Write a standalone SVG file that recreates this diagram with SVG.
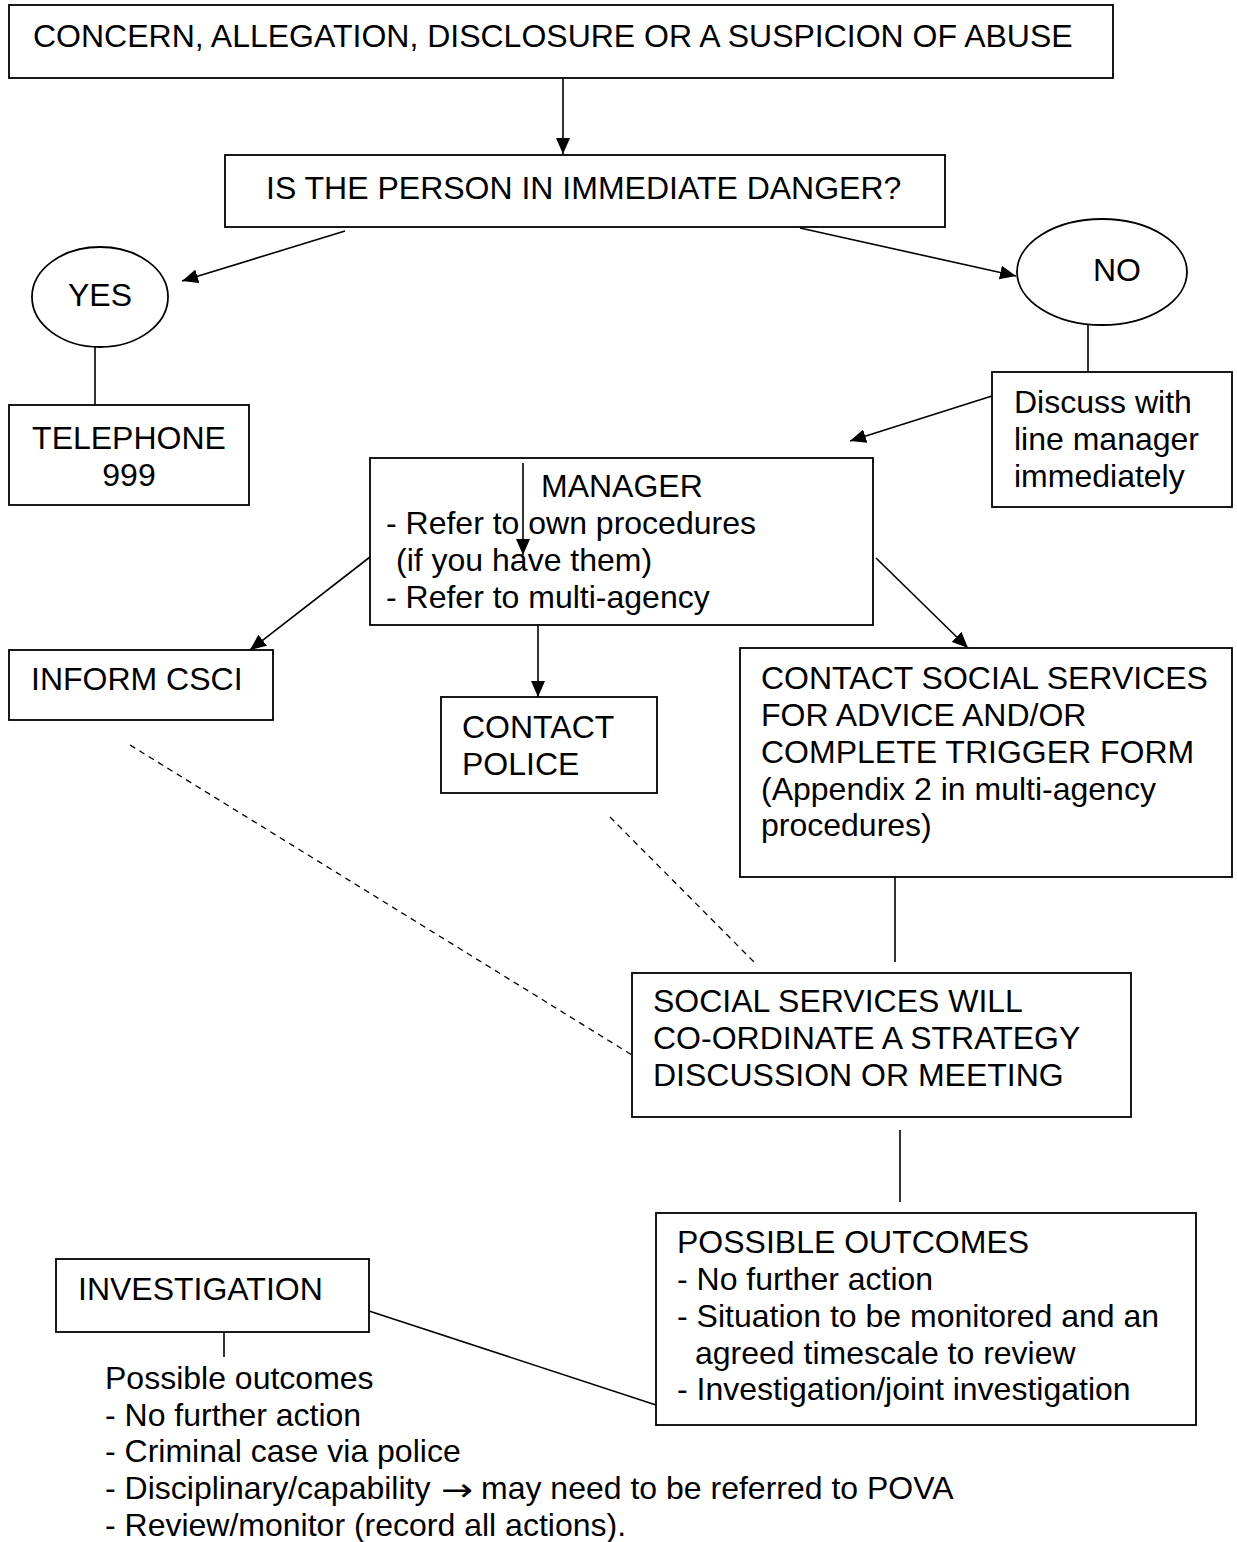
<svg xmlns="http://www.w3.org/2000/svg" width="1237" height="1542" viewBox="0 0 1237 1542">
<style>
.b{fill:#fff;stroke:#000;stroke-width:1.8}
.t{font-family:"Liberation Sans",Arial,sans-serif;font-size:32px;fill:#000}
.c{stroke:#000;stroke-width:1.6;fill:none}
.d{stroke:#000;stroke-width:1.3;fill:none;stroke-dasharray:6 5}
</style>
<defs>
<marker id="ah" markerUnits="userSpaceOnUse" markerWidth="18" markerHeight="14" refX="16" refY="7" orient="auto">
<path d="M0,0 L16,7 L0,14 z" fill="#000"/>
</marker>
</defs>
<rect width="1237" height="1542" fill="#fff"/>
<g id="connectors">
<line class="c" x1="563" y1="78" x2="563" y2="154" marker-end="url(#ah)"/>
<line class="c" x1="345" y1="231" x2="182" y2="281" marker-end="url(#ah)"/>
<line class="c" x1="800" y1="228" x2="1016" y2="276" marker-end="url(#ah)"/>
<line class="c" x1="95" y1="347" x2="95" y2="405"/>
<line class="c" x1="1088" y1="325" x2="1088" y2="372"/>
<line class="c" x1="992" y1="396" x2="850" y2="441" marker-end="url(#ah)"/>
<line class="c" x1="370" y1="557" x2="250" y2="650" marker-end="url(#ah)"/>
<line class="c" x1="538" y1="625" x2="538" y2="697" marker-end="url(#ah)"/>
<line class="c" x1="876" y1="558" x2="968" y2="648" marker-end="url(#ah)"/>
<line class="c" x1="895" y1="877" x2="895" y2="962"/>
<line class="d" x1="130" y1="745" x2="632" y2="1055"/>
<line class="d" x1="610" y1="817" x2="754" y2="962"/>
<line class="c" x1="900" y1="1130" x2="900" y2="1202"/>
<line class="c" x1="369" y1="1311" x2="656" y2="1405"/>
<line class="c" x1="224" y1="1332" x2="224" y2="1357"/>
</g>
<g id="n1"><rect class="b" x="9" y="5" width="1104" height="73"/><text class="t" x="33" y="47">CONCERN, ALLEGATION, DISCLOSURE OR A SUSPICION OF ABUSE</text></g>
<g id="n2"><rect class="b" x="225" y="155" width="720" height="72"/><text class="t" x="266" y="199">IS THE PERSON IN IMMEDIATE DANGER?</text></g>
<g id="yes"><ellipse class="b" cx="100" cy="297" rx="68" ry="50"/><text class="t" x="68" y="306">YES</text></g>
<g id="no"><ellipse class="b" cx="1102" cy="272" rx="85" ry="53"/><text class="t" x="1093" y="281">NO</text></g>
<g id="tel"><rect class="b" x="9" y="405" width="240" height="100"/><text class="t" x="129" y="449" text-anchor="middle">TELEPHONE</text><text class="t" x="129" y="486" text-anchor="middle">999</text></g>
<g id="discuss"><rect class="b" x="992" y="372" width="240" height="135"/><text class="t" x="1014" y="413">Discuss with</text><text class="t" x="1014" y="450">line manager</text><text class="t" x="1014" y="487">immediately</text></g>
<g id="manager"><rect class="b" x="370" y="458" width="503" height="167"/>
<text class="t" x="541" y="497">MANAGER</text>
<text class="t" x="386" y="534">- Refer to own procedures</text>
<text class="t" x="396" y="571">(if you have them)</text>
<text class="t" x="386" y="608">- Refer to multi-agency</text>
<line class="c" x1="523" y1="463" x2="523" y2="555" marker-end="url(#ah)"/>
</g>
<g id="csci"><rect class="b" x="9" y="650" width="264" height="70"/><text class="t" x="31" y="690">INFORM CSCI</text></g>
<g id="police"><rect class="b" x="441" y="697" width="216" height="96"/><text class="t" x="462" y="738">CONTACT</text><text class="t" x="462" y="775">POLICE</text></g>
<g id="social"><rect class="b" x="740" y="648" width="492" height="229"/>
<text class="t" x="761" y="689">CONTACT SOCIAL SERVICES</text>
<text class="t" x="761" y="726">FOR ADVICE AND/OR</text>
<text class="t" x="761" y="763">COMPLETE TRIGGER FORM</text>
<text class="t" x="761" y="800">(Appendix 2 in multi-agency</text>
<text class="t" x="761" y="836">procedures)</text></g>
<g id="strategy"><rect class="b" x="632" y="973" width="499" height="144"/>
<text class="t" x="653" y="1012">SOCIAL SERVICES WILL</text>
<text class="t" x="653" y="1049">CO-ORDINATE A STRATEGY</text>
<text class="t" x="653" y="1086">DISCUSSION OR MEETING</text></g>
<g id="outcomes"><rect class="b" x="656" y="1213" width="540" height="212"/>
<text class="t" x="677" y="1253">POSSIBLE OUTCOMES</text>
<text class="t" x="677" y="1290">- No further action</text>
<text class="t" x="677" y="1327">- Situation to be monitored and an</text>
<text class="t" x="695" y="1364">agreed timescale to review</text>
<text class="t" x="677" y="1400">- Investigation/joint investigation</text></g>
<g id="investigation"><rect class="b" x="56" y="1259" width="313" height="73"/><text class="t" x="78" y="1300">INVESTIGATION</text></g>
<g id="inv-outcomes">
<text class="t" x="105" y="1389">Possible outcomes</text>
<text class="t" x="105" y="1426">- No further action</text>
<text class="t" x="105" y="1462">- Criminal case via police</text>
<text class="t" x="105" y="1499">- Disciplinary/capability <tspan x="441" y="1501" font-family="'DejaVu Sans',sans-serif" textLength="32" lengthAdjust="spacingAndGlyphs">→</tspan><tspan x="481" y="1499">may need to be referred to POVA</tspan></text>
<text class="t" x="105" y="1536">- Review/monitor (record all actions).</text>
</g>
</svg>
